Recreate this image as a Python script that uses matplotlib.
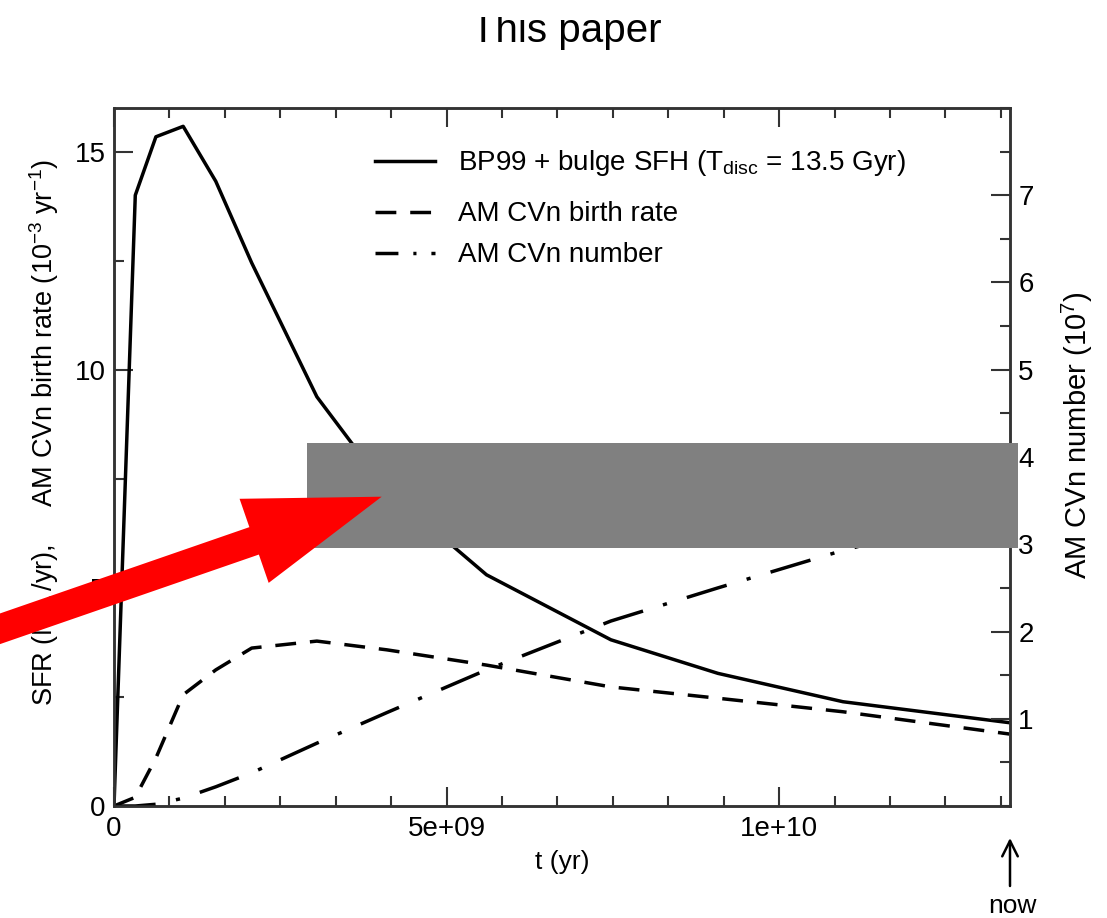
import numpy as np
import matplotlib
matplotlib.use("Agg")
import matplotlib.pyplot as plt
from matplotlib.ticker import MultipleLocator, FixedLocator, FixedFormatter
from matplotlib.patches import Rectangle, Polygon
from matplotlib.lines import Line2D

plt.rcParams['font.family'] = ['Liberation Sans', 'DejaVu Sans']
plt.rcParams['mathtext.fontset'] = 'custom'
plt.rcParams['mathtext.rm'] = 'Liberation Sans'
plt.rcParams['mathtext.it'] = 'Liberation Sans'

# ---- data ----
t_gyr = [0, 0.32, 0.63, 1.04, 1.53, 2.07, 3.05, 4.1, 5.6, 7.47, 9.08, 10.96, 13.46]
sfr = [0, 14.0, 15.34, 15.58, 14.32, 12.45, 9.38, 7.25, 5.30, 3.81, 3.04, 2.39, 1.91]
birth_rate = [0, 0.2, 1.1, 2.55, 3.12, 3.62, 3.78, 3.58, 3.23, 2.73, 2.47, 2.16, 1.65]
amcvn_number = [0, 0, 0.02, 0.09, 0.22, 0.38, 0.72, 1.07, 1.56, 2.12, 2.50, 2.93, 3.42]

x_ticks = [0, 5e9, 1e10]
x_ticklabels = ['0', '5e+09', '1e+10']
left_ticks = [0, 5, 10, 15]
right_ticks = [1, 2, 3, 4, 5, 6, 7]

labels = ['BP99 + bulge SFH (T$_{\\rm disc}$ = 13.5 Gyr)',
          'AM CVn birth rate', 'AM CVn number']

t = np.array(t_gyr) * 1e9

W, H = 1107, 918
fig = plt.figure(figsize=(W / 100, H / 100), dpi=100)
ax = fig.add_axes([114 / W, 1 - 806 / H, (1010 - 114) / W, (806 - 108) / H])
ax2 = ax.twinx()

lw = 2.5
dash_style = (6, 4)
dashdot_style = (12, 6, 1.2, 6)
l1, = ax.plot(t, sfr, color='black', lw=lw)
l2, = ax.plot(t, birth_rate, color='black', lw=lw, dashes=dash_style)
l3, = ax2.plot(t, amcvn_number, color='black', lw=lw, dashes=dashdot_style)

ax.set_xlim(0, 13.47e9)
ax.set_ylim(0, 16.0)
ax2.set_ylim(0, 8.0)

fs = 20
ax.xaxis.set_major_locator(FixedLocator(x_ticks))
ax.xaxis.set_major_formatter(FixedFormatter(x_ticklabels))
ax.xaxis.set_minor_locator(MultipleLocator(5e9 / 6))
ax.yaxis.set_major_locator(FixedLocator(left_ticks))
ax.yaxis.set_minor_locator(MultipleLocator(2.5))
ax2.yaxis.set_major_locator(FixedLocator(right_ticks))
ax2.yaxis.set_minor_locator(MultipleLocator(0.5))

ax.tick_params(axis='x', which='both', direction='in', top=True, labelsize=fs, pad=7)
ax.tick_params(axis='y', which='both', direction='in', right=False, labelsize=fs, pad=6)
ax2.tick_params(axis='y', which='both', direction='in', labelsize=fs, pad=6)
for a in (ax, ax2):
    a.tick_params(which='major', length=14, width=1.5, color='#333333')
    a.tick_params(which='minor', length=7, width=1.5, color='#333333')
    for s in a.spines.values():
        s.set_linewidth(1.8)
        s.set_color('#333333')

ax.set_xlabel('t (yr)', fontsize=19, labelpad=6)

fig.text(45 / W, 1 - 432 / H,
         'SFR (M$_\\odot$/yr),     AM CVn birth rate (10$^{-3}$ yr$^{-1}$)',
         rotation=90, ha='center', va='center', fontsize=19.5)
fig.text(1077 / W, 1 - 435 / H, 'AM CVn number (10$^7$)',
         rotation=90, ha='center', va='center', fontsize=21)

# title (its top edge is clipped in the reference)
fig.text(566 / W, 1 - 42 / H, 'This paper', ha='center', va='baseline', fontsize=29)
fig.add_artist(Rectangle((0, 1 - 17 / H), 1, 17 / H, transform=fig.transFigure,
                         facecolor='white', edgecolor='none', zorder=12))

# legend (manual placement)
legend_rows_y = [161, 212, 253]
legend_base_y = [170, 221, 262]
legend_styles = [dict(), dict(dashes=dash_style), dict(dashes=(6.6, 4.3, 0.9, 4.3))]
for ry, by, lab, st in zip(legend_rows_y, legend_base_y, labels, legend_styles):
    fig.add_artist(Line2D([375 / W, 435 / W], [1 - ry / H, 1 - ry / H],
                          transform=fig.transFigure, color='black', lw=lw, **st))
    fig.text(458 / W, 1 - by / H, lab, ha='left', va='baseline', fontsize=fs)

# "now" marker
ax.annotate('', xy=(13.47e9, (806 - 838) / 698), xycoords=('data', 'axes fraction'),
            xytext=(13.47e9, (806 - 886) / 698), textcoords=('data', 'axes fraction'),
            annotation_clip=False,
            arrowprops=dict(arrowstyle='->', lw=1.8, color='black',
                            mutation_scale=28, shrinkA=0, shrinkB=0))
fig.text(1012 / W, 1 - 913 / H, 'now', ha='center', va='baseline', fontsize=19)

# overlay: gray box
fig.add_artist(Rectangle((307 / W, 1 - 548 / H), (1018 - 307) / W, (548 - 443) / H,
                         transform=fig.transFigure, facecolor='#808080',
                         edgecolor='none', zorder=10))

# overlay: red arrow (pixel geometry)
tip = np.array([381.7, 496.7])
d = np.array([0.945, -0.327])
d = d / np.linalg.norm(d)
n = np.array([-d[1], d[0]])
head_len, head_hw, shaft_hw = 135, 44.5, 14.5
base = tip - head_len * d
start = base - 450 * d
pts = [start + shaft_hw * n, base + shaft_hw * n, base + head_hw * n, tip,
       base - head_hw * n, base - shaft_hw * n, start - shaft_hw * n]
pts = [(p[0] / W, 1 - p[1] / H) for p in pts]
fig.add_artist(Polygon(pts, closed=True, transform=fig.transFigure,
                       facecolor='#ff0000', edgecolor='none', zorder=11))

fig.savefig('out.png', dpi=100)
